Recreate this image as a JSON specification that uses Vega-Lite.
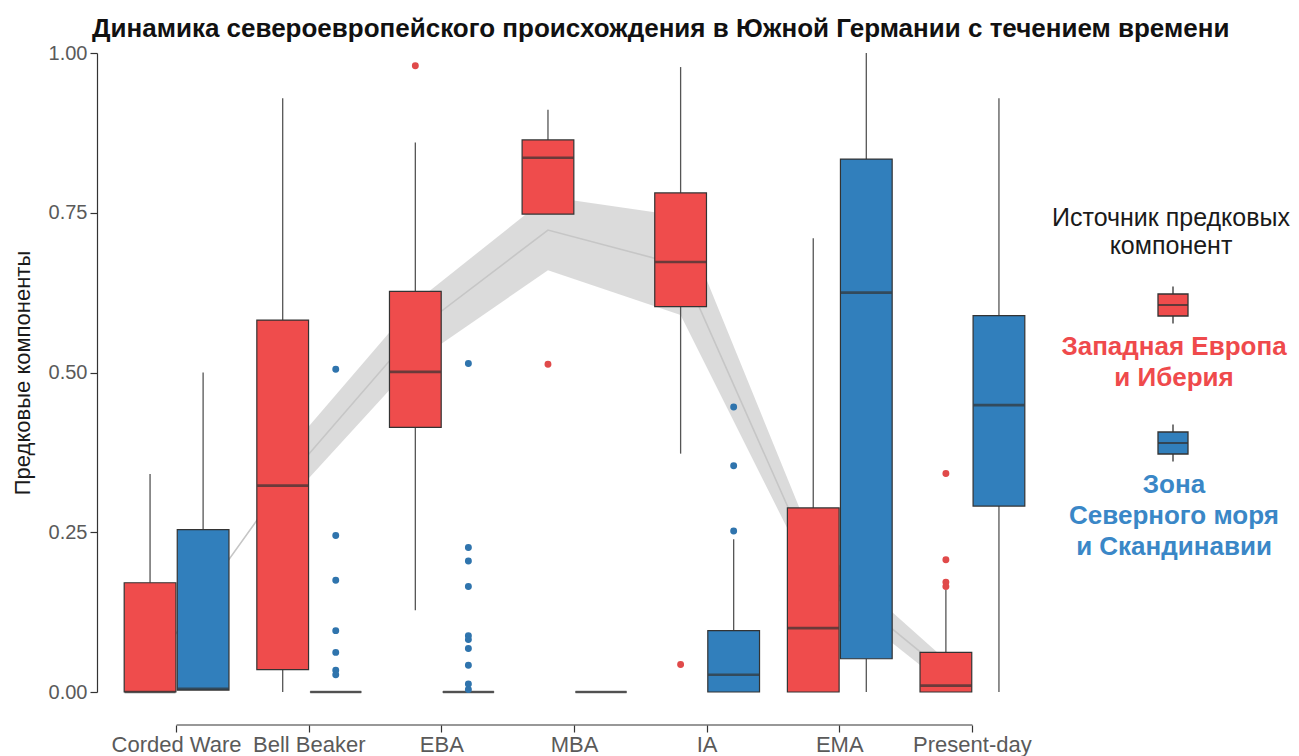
{
  "$schema": "https://vega.github.io/schema/vega-lite/v6.json",
  "width": 955,
  "height": 639,
  "autosize": {"type": "none"},
  "padding": {"left": 97, "top": 53, "right": 247, "bottom": 64},
  "background": "white",
  "title": {
    "text": "Динамика североевропейского происхождения в Южной Германии с течением времени",
    "frame": "group",
    "anchor": "start",
    "dx": -5,
    "fontSize": 26,
    "fontWeight": "bold",
    "font": "Liberation Sans",
    "color": "#111111",
    "offset": 1
  },
  "config": {
    "view": {"stroke": null},
    "font": "Liberation Sans",
    "axis": {"grid": false}
  },
  "datasets": {
    "boxes": [
      {"period": "Corded Ware", "source": "Западная Европа и Иберия", "lo": 0, "q1": 0, "med": 0, "q3": 0.171, "hi": 0.341},
      {"period": "Corded Ware", "source": "Зона Северного моря и Скандинавии", "lo": 0.003, "q1": 0.003, "med": 0.005, "q3": 0.254, "hi": 0.5},
      {"period": "Bell Beaker", "source": "Западная Европа и Иберия", "lo": 0, "q1": 0.035, "med": 0.323, "q3": 0.582, "hi": 0.929},
      {"period": "Bell Beaker", "source": "Зона Северного моря и Скандинавии", "lo": 0, "q1": 0, "med": 0, "q3": 0, "hi": 0},
      {"period": "EBA", "source": "Западная Европа и Иберия", "lo": 0.128, "q1": 0.414, "med": 0.501, "q3": 0.627, "hi": 0.86},
      {"period": "EBA", "source": "Зона Северного моря и Скандинавии", "lo": 0, "q1": 0, "med": 0, "q3": 0, "hi": 0},
      {"period": "MBA", "source": "Западная Европа и Иберия", "lo": 0.748, "q1": 0.748, "med": 0.836, "q3": 0.864, "hi": 0.911},
      {"period": "MBA", "source": "Зона Северного моря и Скандинавии", "lo": 0, "q1": 0, "med": 0, "q3": 0, "hi": 0},
      {"period": "IA", "source": "Западная Европа и Иберия", "lo": 0.373, "q1": 0.603, "med": 0.673, "q3": 0.781, "hi": 0.978},
      {"period": "IA", "source": "Зона Северного моря и Скандинавии", "lo": 0, "q1": 0, "med": 0.027, "q3": 0.096, "hi": 0.239},
      {"period": "EMA", "source": "Западная Европа и Иберия", "lo": 0, "q1": 0, "med": 0.1, "q3": 0.288, "hi": 0.71},
      {"period": "EMA", "source": "Зона Северного моря и Скандинавии", "lo": 0, "q1": 0.052, "med": 0.625, "q3": 0.834, "hi": 1.0},
      {"period": "Present-day", "source": "Западная Европа и Иберия", "lo": 0, "q1": 0, "med": 0.01, "q3": 0.062, "hi": 0.16},
      {"period": "Present-day", "source": "Зона Северного моря и Скандинавии", "lo": 0, "q1": 0.291, "med": 0.449, "q3": 0.589, "hi": 0.929}
    ],
    "outliers": [
      {"period": "Bell Beaker", "source": "Зона Северного моря и Скандинавии", "value": 0.505},
      {"period": "Bell Beaker", "source": "Зона Северного моря и Скандинавии", "value": 0.245},
      {"period": "Bell Beaker", "source": "Зона Северного моря и Скандинавии", "value": 0.175},
      {"period": "Bell Beaker", "source": "Зона Северного моря и Скандинавии", "value": 0.096},
      {"period": "Bell Beaker", "source": "Зона Северного моря и Скандинавии", "value": 0.062},
      {"period": "Bell Beaker", "source": "Зона Северного моря и Скандинавии", "value": 0.034},
      {"period": "Bell Beaker", "source": "Зона Северного моря и Скандинавии", "value": 0.027},
      {"period": "EBA", "source": "Западная Европа и Иберия", "value": 0.98},
      {"period": "EBA", "source": "Зона Северного моря и Скандинавии", "value": 0.514},
      {"period": "EBA", "source": "Зона Северного моря и Скандинавии", "value": 0.226},
      {"period": "EBA", "source": "Зона Северного моря и Скандинавии", "value": 0.205},
      {"period": "EBA", "source": "Зона Северного моря и Скандинавии", "value": 0.165},
      {"period": "EBA", "source": "Зона Северного моря и Скандинавии", "value": 0.088},
      {"period": "EBA", "source": "Зона Северного моря и Скандинавии", "value": 0.082},
      {"period": "EBA", "source": "Зона Северного моря и Скандинавии", "value": 0.068},
      {"period": "EBA", "source": "Зона Северного моря и Скандинавии", "value": 0.042},
      {"period": "EBA", "source": "Зона Северного моря и Скандинавии", "value": 0.0125},
      {"period": "EBA", "source": "Зона Северного моря и Скандинавии", "value": 0.004},
      {"period": "MBA", "source": "Западная Европа и Иберия", "value": 0.513},
      {"period": "IA", "source": "Западная Европа и Иберия", "value": 0.043},
      {"period": "IA", "source": "Зона Северного моря и Скандинавии", "value": 0.252},
      {"period": "IA", "source": "Зона Северного моря и Скандинавии", "value": 0.354},
      {"period": "IA", "source": "Зона Северного моря и Скандинавии", "value": 0.446},
      {"period": "Present-day", "source": "Западная Европа и Иберия", "value": 0.342},
      {"period": "Present-day", "source": "Западная Европа и Иберия", "value": 0.207},
      {"period": "Present-day", "source": "Западная Европа и Иберия", "value": 0.172},
      {"period": "Present-day", "source": "Западная Европа и Иберия", "value": 0.165}
    ],
    "ribbon": [
      {"period": "Bell Beaker", "lower": 0.29, "upper": 0.368},
      {"period": "EBA", "lower": 0.517, "upper": 0.61},
      {"period": "MBA", "lower": 0.66, "upper": 0.775},
      {"period": "IA", "lower": 0.59, "upper": 0.745},
      {"period": "EMA", "lower": 0.175, "upper": 0.235},
      {"period": "Present-day", "lower": 0.01, "upper": 0.05}
    ],
    "meanline": [
      {"period": "Corded Ware", "mean": 0.035},
      {"period": "Bell Beaker", "mean": 0.325},
      {"period": "EBA", "mean": 0.565},
      {"period": "MBA", "mean": 0.723},
      {"period": "IA", "mean": 0.668},
      {"period": "EMA", "mean": 0.2},
      {"period": "Present-day", "mean": 0.03}
    ]
  },
  "layer": [
    {
      "data": {"name": "ribbon"},
      "mark": {"type": "area", "color": "#d9d9d9", "opacity": 0.95},
      "encoding": {
        "x": {
          "field": "period", "type": "nominal", "bandPosition": 0.3,
          "scale": {"domain": ["Corded Ware", "Bell Beaker", "EBA", "MBA", "IA", "EMA", "Present-day"], "paddingInner": 0, "paddingOuter": 0.1},
          "axis": {
            "title": null, "domain": false, "ticks": true, "tickSize": 7, "tickColor": "#333333", "tickWidth": 1.2,
            "labelFontSize": 22, "labelColor": "#5a5a5a", "labelPadding": 2, "labelAngle": 0, "offset": 33
          }
        },
        "y": {
          "field": "lower", "type": "quantitative",
          "scale": {"domain": [0, 1], "nice": false, "zero": false},
          "axis": {
            "values": [0, 0.25, 0.5, 0.75, 1], "format": ".2f",
            "title": "Предковые компоненты", "titleFontSize": 22, "titleFontWeight": "normal", "titleColor": "#1a1a1a", "titlePadding": 14,
            "domain": true, "domainColor": "#333333", "domainWidth": 1.2,
            "ticks": true, "tickSize": 7, "tickColor": "#333333", "tickWidth": 1.2,
            "labelFontSize": 20, "labelColor": "#5a5a5a", "labelPadding": 3
          }
        },
        "y2": {"field": "upper"}
      }
    },
    {
      "data": {"name": "meanline"},
      "mark": {"type": "line", "color": "#c6c6c6", "strokeWidth": 1.6},
      "encoding": {
        "x": {"field": "period", "type": "nominal", "bandPosition": 0.3},
        "y": {"field": "mean", "type": "quantitative"}
      }
    },
    {
      "data": {"values": [{}]},
      "mark": {"type": "rule", "color": "#333333", "strokeWidth": 1.2, "yOffset": 33},
      "encoding": {
        "x": {"datum": "Corded Ware", "type": "nominal"},
        "x2": {"datum": "Present-day"},
        "y": {"datum": 0, "type": "quantitative"}
      }
    },
    {
      "data": {"name": "boxes"},
      "mark": {"type": "rule", "color": "#555555", "strokeWidth": 1.3},
      "encoding": {
        "x": {"field": "period", "type": "nominal"},
        "xOffset": {
          "field": "source", "type": "nominal",
          "scale": {"domain": ["Западная Европа и Иберия", "Зона Северного моря и Скандинавии"], "paddingInner": 0.025, "paddingOuter": 0.2625}
        },
        "y": {"field": "lo", "type": "quantitative"},
        "y2": {"field": "q1"}
      }
    },
    {
      "data": {"name": "boxes"},
      "mark": {"type": "rule", "color": "#555555", "strokeWidth": 1.3},
      "encoding": {
        "x": {"field": "period", "type": "nominal"},
        "xOffset": {"field": "source", "type": "nominal"},
        "y": {"field": "q3", "type": "quantitative"},
        "y2": {"field": "hi"}
      }
    },
    {
      "data": {"name": "boxes"},
      "mark": {"type": "bar", "stroke": "#333333", "strokeWidth": 1.2},
      "encoding": {
        "x": {"field": "period", "type": "nominal"},
        "xOffset": {"field": "source", "type": "nominal"},
        "y": {"field": "q1", "type": "quantitative"},
        "y2": {"field": "q3"},
        "fill": {
          "field": "source", "type": "nominal",
          "scale": {"domain": ["Западная Европа и Иберия", "Зона Северного моря и Скандинавии"], "range": ["#ef4c4c", "#317fbc"]},
          "legend": {
            "orient": "none", "legendX": 955, "legendY": 153, "padding": 0,
            "title": ["Источник предковых", "компонент"],
            "titleFontSize": 25, "titleFontWeight": "normal", "titleColor": "#1a1a1a", "titleAlign": "center", "titleAnchor": "middle", "titleLineHeight": 28, "titlePadding": 25, "titleLimit": 400,
            "symbolType": "M-0.75,-0.55H0.75V0.55H-0.75Z M-0.75,0H0.75 M0,-0.55V-0.925 M0,0.55V0.925",
            "symbolSize": 1600, "symbolStrokeColor": "#333333", "symbolStrokeWidth": 1.3,
            "labelExpr": "datum.label == 'Западная Европа и Иберия' ? ['Западная Европа', 'и Иберия'] : ['Зона', 'Северного моря', 'и Скандинавии']",
            "labelFontSize": 26, "labelFontWeight": "bold", "labelAlign": "center", "labelBaseline": "top", "labelOffset": -20, "labelLimit": 400,
            "labelColor": {"expr": "datum.label == 'Западная Европа и Иберия' ? '#ef4a4c' : '#3a87c7'"},
            "rowPadding": 30,
            "encoding": {
              "labels": {"dy": {"value": 29}, "lineHeight": {"value": 31}},
              "title": {"dx": {"value": -48}}
            }
          }
        }
      }
    },
    {
      "data": {"name": "boxes"},
      "mark": {"type": "tick", "color": "#333333", "thickness": 2.6, "size": 51},
      "encoding": {
        "x": {"field": "period", "type": "nominal"},
        "xOffset": {"field": "source", "type": "nominal"},
        "y": {"field": "med", "type": "quantitative"}
      }
    },
    {
      "data": {"name": "outliers"},
      "mark": {"type": "point", "filled": true, "size": 48, "opacity": 1},
      "encoding": {
        "x": {"field": "period", "type": "nominal"},
        "xOffset": {"field": "source", "type": "nominal"},
        "y": {"field": "value", "type": "quantitative"},
        "color": {
          "field": "source", "type": "nominal",
          "scale": {"domain": ["Западная Европа и Иберия", "Зона Северного моря и Скандинавии"], "range": ["#e04a4a", "#2f74ad"]},
          "legend": null
        }
      }
    }
  ]
}
